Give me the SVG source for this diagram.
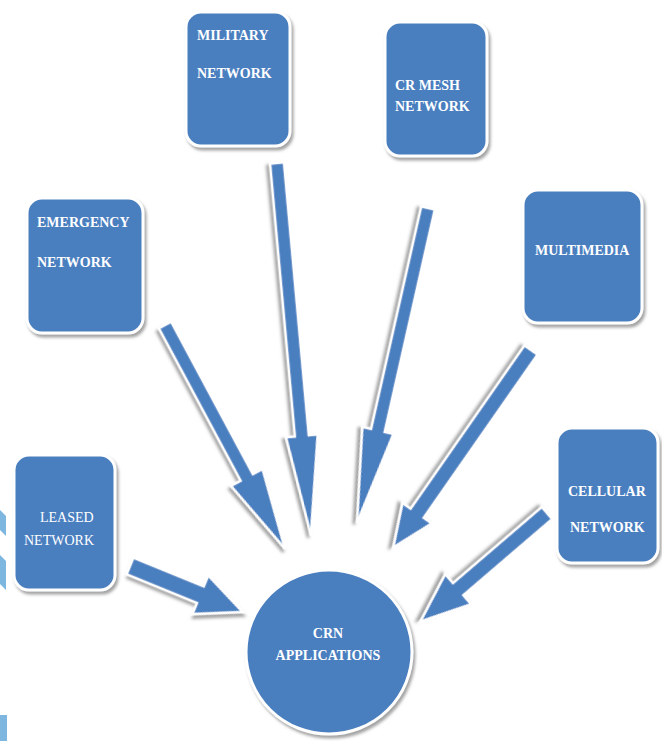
<svg xmlns="http://www.w3.org/2000/svg" width="662" height="741" viewBox="0 0 662 741">
<defs>
<filter id="sh" x="-20%" y="-20%" width="140%" height="140%">
<feDropShadow dx="2" dy="3" stdDeviation="1.5" flood-color="#8c8c8c" flood-opacity="0.8"/>
</filter>
<style>
.node{fill:#4a7ebf;stroke:#ffffff;stroke-width:3;filter:url(#sh)}
.arr{fill:#4a7ebf;stroke:#ffffff;stroke-width:2.5;stroke-linejoin:miter;filter:url(#sh)}
.t{font-family:"Liberation Serif","Times New Roman",serif;font-size:14px;fill:#ffffff;font-weight:bold}
.tn{font-family:"Liberation Serif","Times New Roman",serif;font-size:14px;fill:#ffffff}
.frag{fill:#7db6de}
</style>
</defs>
<rect width="662" height="741" fill="#ffffff"/>
<g id="edge-fragments">
<polygon class="frag" points="0,510 6,516 6,536 0,530"/>
<polygon class="frag" points="0,555 6,561 6,590 0,584"/>
<polygon class="frag" points="0,715 7,715 7,741 0,741"/>
</g>
<g id="connectors">
<polygon class="arr" transform="translate(277,163) rotate(84.8)" points="0,-7 274,-7 274,-16 374,0 274,16 274,7 0,7"/>
<polygon class="arr" transform="translate(428,208) rotate(102.7)" points="0,-7 228,-7 228,-16 323,0 228,16 228,7 0,7"/>
<polygon class="arr" transform="translate(165,325) rotate(61.8)" points="0,-7 173,-7 173,-18 254,0 173,18 173,7 0,7"/>
<polygon class="arr" transform="translate(531,350) rotate(124.9)" points="0,-8 199,-8 199,-18 241,0 199,18 199,8 0,8"/>
<polygon class="arr" transform="translate(547,513) rotate(139.4)" points="0,-8 117,-8 117,-20 167,0 117,20 117,8 0,8"/>
<polygon class="arr" transform="translate(130,566) rotate(22.2)" points="0,-9 76,-9 76,-21 122,0 76,21 76,9 0,9"/>
</g>
<g id="military">
<rect class="node" x="186" y="12" width="104" height="134" rx="15"/>
<text class="t" x="197" y="40">MILITARY</text>
<text class="t" x="197" y="78">NETWORK</text>
</g>
<g id="crmesh">
<rect class="node" x="385" y="22" width="102" height="134" rx="15"/>
<text class="t" x="395" y="90">CR MESH</text>
<text class="t" x="395" y="111">NETWORK</text>
</g>
<g id="emergency">
<rect class="node" x="27" y="198" width="116" height="135" rx="15"/>
<text class="t" x="37" y="227">EMERGENCY</text>
<text class="t" x="37" y="267">NETWORK</text>
</g>
<g id="multimedia">
<rect class="node" x="523" y="190" width="119" height="133" rx="15"/>
<text class="t" x="535" y="255">MULTIMEDIA</text>
</g>
<g id="leased">
<rect class="node" x="14" y="455" width="101" height="135" rx="15"/>
<text class="tn" x="40" y="522">LEASED</text>
<text class="tn" x="24" y="545">NETWORK</text>
</g>
<g id="cellular">
<rect class="node" x="557" y="428" width="101" height="135" rx="15"/>
<text class="t" x="568" y="496">CELLULAR</text>
<text class="t" x="570" y="532">NETWORK</text>
</g>
<g id="crn">
<ellipse class="node" cx="329" cy="652" rx="83" ry="82"/>
<text class="t" x="328" y="638" text-anchor="middle">CRN</text>
<text class="t" x="328" y="660" text-anchor="middle">APPLICATIONS</text>
</g>
</svg>
